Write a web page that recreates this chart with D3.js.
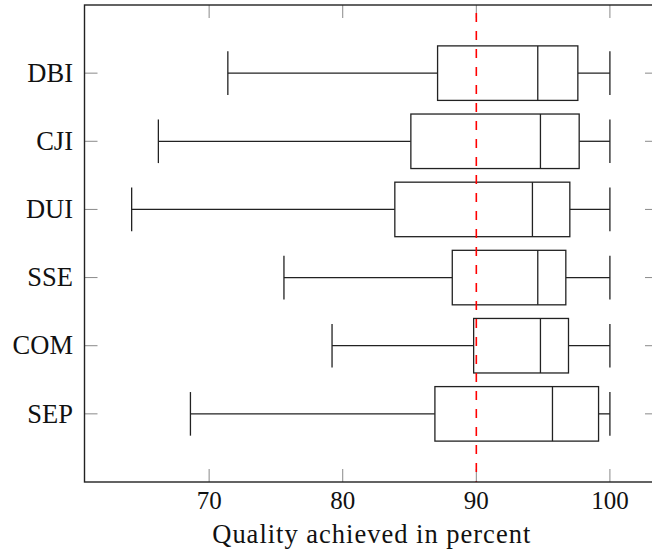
<!DOCTYPE html>
<html>
<head>
<meta charset="utf-8">
<script src="https://cdn.jsdelivr.net/npm/d3@7"></script>
<style>
  html, body { margin: 0; padding: 0; background: #fff; }
  svg { display: block; }
  text { font-family: "Liberation Serif", "Times New Roman", serif; fill: #111; }
</style>
</head>
<body>
<svg id="chart" width="652" height="552"></svg>
<script>
// ---- data ----
const categories = ["DBI", "CJI", "DUI", "SSE", "COM", "SEP"];
const lowerWhisker = [71.4, 66.2, 64.2, 75.6, 79.2, 68.6];
const q1           = [87.1, 85.1, 83.9, 88.2, 89.8, 86.9];
const median       = [94.6, 94.8, 94.2, 94.6, 94.8, 95.7];
const q3           = [97.6, 97.7, 97.0, 96.7, 96.9, 99.15];
const upperWhisker = [100, 100, 100, 100, 100, 100];
const xTicks = [70, 80, 90, 100];
const threshold = 90;
const xLabel = "Quality achieved in percent";

// ---- layout ----
const mLeft = 84.5, mRight = 658, mTop = 5, mBottom = 482;
const svg = d3.select("#chart");

const x = d3.scaleLinear().domain([60.67, 103.6]).range([mLeft, mRight]);
const y = d3.scaleLinear().domain([0, categories.length + 1]).range([mBottom, mTop]);
const pos = i => y(categories.length - i);
const unit = Math.abs(y(1) - y(0));
const boxH = 0.8 * unit, capH = 0.64 * unit;

const data = categories.map((c, i) => ({
  c, i, lw: lowerWhisker[i], q1: q1[i], med: median[i], q3: q3[i], uw: upperWhisker[i]
}));

const tickLen = 13;
const tickColor = "#8a8a8a";
const lineColor = "#222";

// ticks (inward, on all sides)
const tg = svg.append("g");
xTicks.forEach(t => {
  tg.append("line").attr("x1", x(t)).attr("x2", x(t)).attr("y1", mBottom).attr("y2", mBottom - tickLen)
    .attr("stroke", tickColor).attr("stroke-width", 1);
  tg.append("line").attr("x1", x(t)).attr("x2", x(t)).attr("y1", mTop).attr("y2", mTop + tickLen)
    .attr("stroke", tickColor).attr("stroke-width", 1);
});
categories.forEach((c, i) => {
  tg.append("line").attr("x1", mLeft).attr("x2", mLeft + tickLen).attr("y1", pos(i)).attr("y2", pos(i))
    .attr("stroke", tickColor).attr("stroke-width", 1);
  tg.append("line").attr("x1", mRight).attr("x2", mRight - tickLen).attr("y1", pos(i)).attr("y2", pos(i))
    .attr("stroke", tickColor).attr("stroke-width", 1);
});

// boxes
const bg = svg.append("g").attr("fill", "none").attr("stroke", lineColor).attr("stroke-width", 1.3);
data.forEach(d => {
  const cy = pos(d.i);
  bg.append("line").attr("x1", x(d.lw)).attr("x2", x(d.q1)).attr("y1", cy).attr("y2", cy);
  bg.append("line").attr("x1", x(d.q3)).attr("x2", x(d.uw)).attr("y1", cy).attr("y2", cy);
  bg.append("line").attr("x1", x(d.lw)).attr("x2", x(d.lw)).attr("y1", cy - capH / 2).attr("y2", cy + capH / 2);
  bg.append("line").attr("x1", x(d.uw)).attr("x2", x(d.uw)).attr("y1", cy - capH / 2).attr("y2", cy + capH / 2);
  bg.append("rect").attr("x", x(d.q1)).attr("y", cy - boxH / 2)
    .attr("width", x(d.q3) - x(d.q1)).attr("height", boxH).attr("fill", "#fff");
  bg.append("line").attr("x1", x(d.med)).attr("x2", x(d.med)).attr("y1", cy - boxH / 2).attr("y2", cy + boxH / 2);
});

// threshold line
svg.append("line")
  .attr("x1", x(threshold)).attr("x2", x(threshold)).attr("y1", mTop).attr("y2", mBottom)
  .attr("stroke", "#ff0000").attr("stroke-width", 1.6)
  .attr("stroke-dasharray", "9,9").attr("stroke-dashoffset", 10);

// frame
svg.append("rect").attr("x", mLeft).attr("y", mTop).attr("width", mRight - mLeft).attr("height", mBottom - mTop)
  .attr("fill", "none").attr("stroke", lineColor).attr("stroke-width", 1.4);

// tick labels
svg.append("g").selectAll("text").data(xTicks).join("text")
  .attr("x", d => x(d)).attr("y", 509)
  .attr("text-anchor", "middle").attr("font-size", 25)
  .text(d => d);

svg.append("g").selectAll("text").data(categories).join("text")
  .attr("x", 73).attr("y", (d, i) => pos(i))
  .attr("dy", "0.33em")
  .attr("text-anchor", "end").attr("font-size", 26.5)
  .text(d => d);

// axis label
svg.append("text")
  .attr("x", (mLeft + mRight) / 2).attr("y", 543)
  .attr("text-anchor", "middle").attr("font-size", 26.5)
  .attr("textLength", 318).attr("lengthAdjust", "spacing")
  .text(xLabel);
</script>
</body>
</html>
